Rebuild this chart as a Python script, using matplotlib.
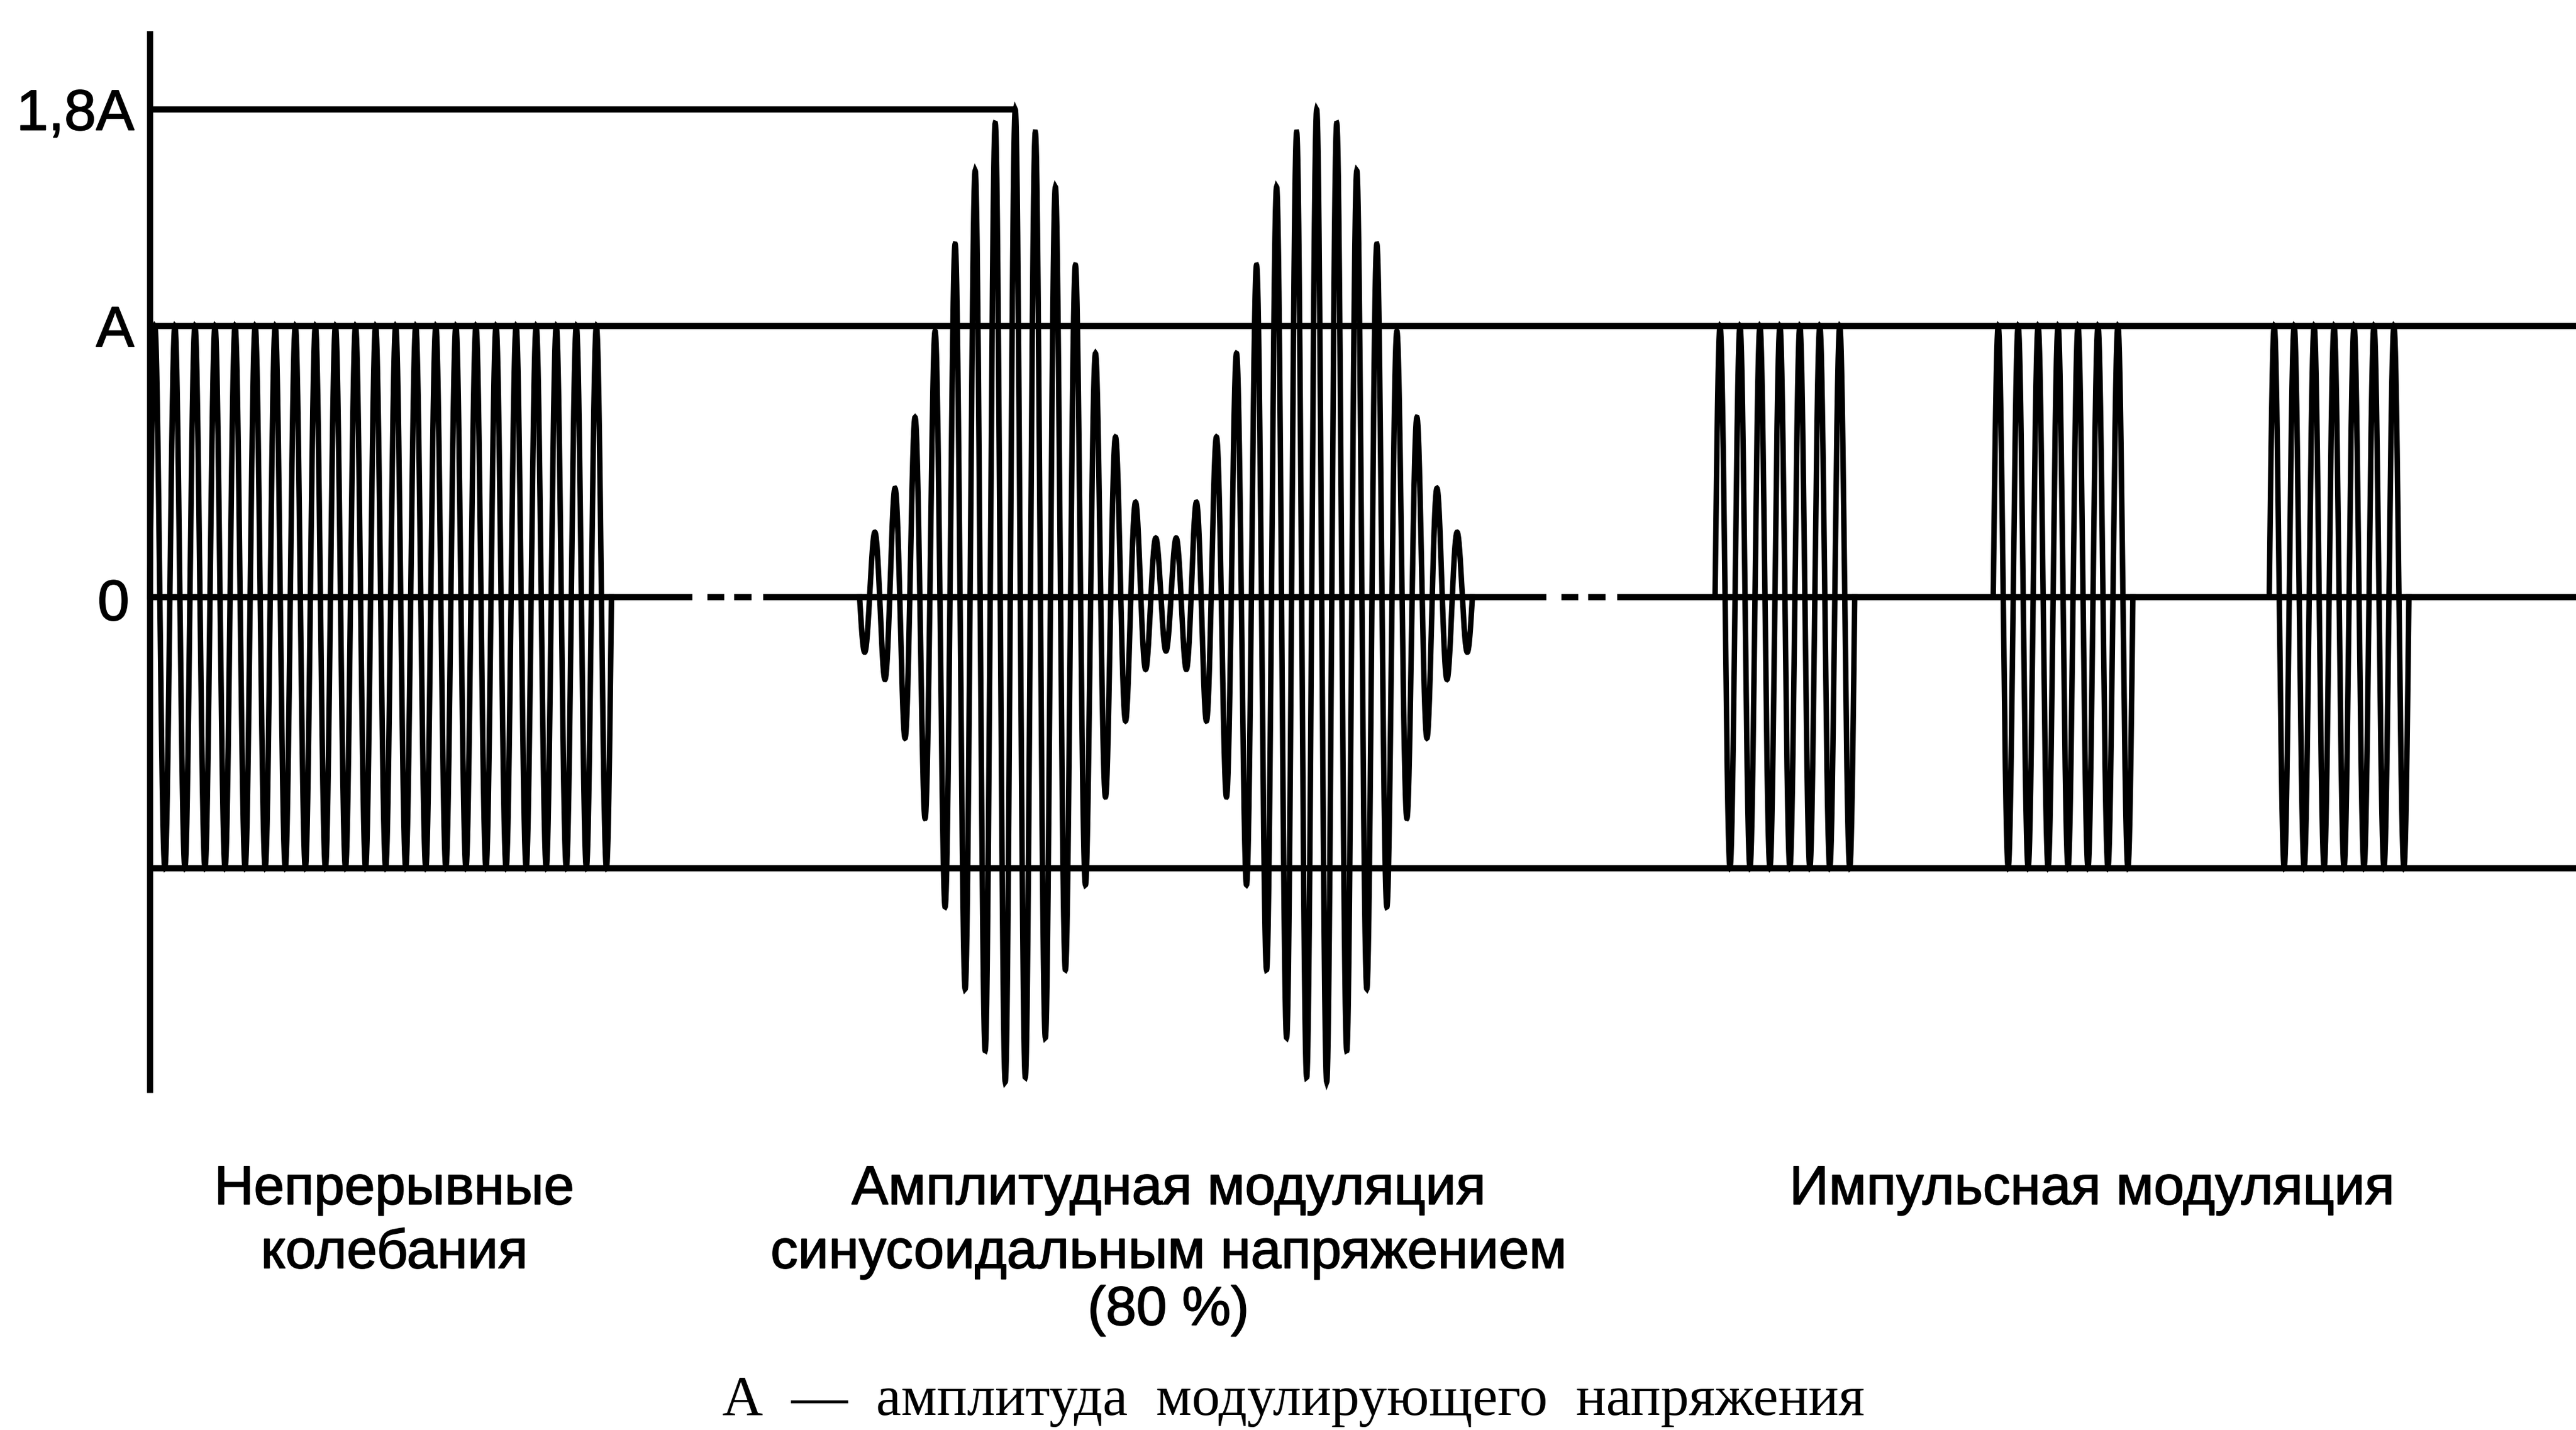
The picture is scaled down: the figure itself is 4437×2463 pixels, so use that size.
import numpy as np
import matplotlib
matplotlib.use("Agg")
import matplotlib.pyplot as plt
import matplotlib.patheffects as pe

# ---------------- data ----------------
# reference levels (in units of the modulating amplitude A)
level_values = [1.8, 1.0, 0.0, -1.0]
level_labels = ["1,8A", "A", "0", ""]

# continuous wave segment (time in arbitrary units)
cw_start = 0.0
cw_duration = 28.1
cw_cycles = 23
cw_amplitude = 1.0

# amplitude-modulated segment (80 %)
am_start = 43.2
am_duration = 37.3
am_carrier_cycles = 30.5
am_mod_cycles = 2
am_depth = 0.8

# pulse-modulated segment
pulse_starts = [95.27, 112.2, 129.0]
pulse_duration = 8.5
pulse_cycles = 7
pulse_amplitude = 1.0

# zero-line break marks (centres)
break_centres = [35.17, 87.15]

segment_label_x = [14.88, 62.0, 118.2]
segment_labels = [
    ["Непрерывные", "колебания"],
    ["Амплитудная модуляция", "синусоидальным напряжением", "(80 %)"],
    ["Импульсная модуляция"],
]
caption = "А  —  амплитуда  модулирующего  напряжения"

# ---------------- figure ----------------
W, H = 4437, 2463
fig = plt.figure(figsize=(W / 100, H / 100), dpi=100)
ax = fig.add_axes([0, 0, 1, 1])
x_min, x_max = -9.117, 147.67
y_min, y_max = -3.076, 2.2036
ax.set_xlim(x_min, x_max)
ax.set_ylim(y_min, y_max)
ax.axis("off")

LW_REF = 7.6
LW_WAVE = 6.8
black = "black"
spp = 240  # samples per carrier cycle

# ---- waveforms ----
t = np.linspace(0, 1, int(cw_cycles * spp) + 1)
ax.plot(cw_start + t * cw_duration,
        cw_amplitude * np.sin(2 * np.pi * cw_cycles * t),
        color=black, lw=LW_WAVE, solid_joinstyle="miter", zorder=3)

tau = np.linspace(0, 1, int(am_carrier_cycles * spp) + 1)
env = 1 - am_depth * np.cos(2 * np.pi * am_mod_cycles * tau)
am_t = am_start + tau * am_duration
am_y = -env * np.sin(2 * np.pi * am_carrier_cycles * tau)
ax.plot(am_t, am_y, color=black, lw=LW_WAVE, solid_joinstyle="miter", zorder=3)

tp = np.linspace(0, 1, int(pulse_cycles * spp) + 1)
for ps in pulse_starts:
    ax.plot(ps + tp * pulse_duration,
            pulse_amplitude * np.sin(2 * np.pi * pulse_cycles * tp),
            color=black, lw=LW_WAVE, solid_joinstyle="miter", zorder=3)

# ---- reference lines ----
half = am_t < am_start + am_duration / 2
peak_x = am_t[half][np.argmax(am_y[half])]
ax.plot([0, peak_x], [level_values[0], level_values[0]], color=black,
        lw=LW_REF, solid_capstyle="butt", zorder=2)
for lv in level_values[1::2]:
    ax.plot([0, x_max], [lv, lv], color=black, lw=LW_REF,
            solid_capstyle="butt", zorder=2)

# zero line with break marks
brk = [-2.15, -1.25, -0.23, 0.37, 1.45, 2.15]
xs = [0.0]
for c in break_centres:
    xs += [c + b for b in brk]
xs.append(x_max)
for i in range(0, len(xs), 2):
    ax.plot([xs[i], xs[i + 1]], [0, 0], color=black, lw=LW_REF,
            solid_capstyle="butt", zorder=2)

# vertical axis
ax.plot([0, 0], [-1.83, 2.09], color=black, lw=LW_REF,
        solid_capstyle="butt", zorder=2)

# ---- texts ----
FS = 71
sans = "Liberation Sans"
cap = 0.152
heavy = [pe.withStroke(linewidth=1.3, foreground=black)]
label_x = {"1,8A": -0.95, "A": -0.95, "0": -1.24}
for lv, lab in zip(level_values, level_labels):
    if lab:
        dy = -0.01 if lab == "0" else 0.0
        ax.text(label_x[lab], lv - cap / 2 + dy, lab, ha="right", va="baseline",
                fontsize=FS, family=sans, color=black, path_effects=heavy)

line_baselines = [-2.242, -2.478, -2.688]
for xc, lines in zip(segment_label_x, segment_labels):
    for yb, s in zip(line_baselines, lines):
        ax.text(xc, yb, s, ha="center", va="baseline", fontsize=68,
                family=sans, color=black, path_effects=heavy)

ax.text(69.6, -3.02, caption, ha="center", va="baseline", fontsize=70,
        family="Liberation Serif", color=black)

fig.savefig("out.png", dpi=100, facecolor="white")
